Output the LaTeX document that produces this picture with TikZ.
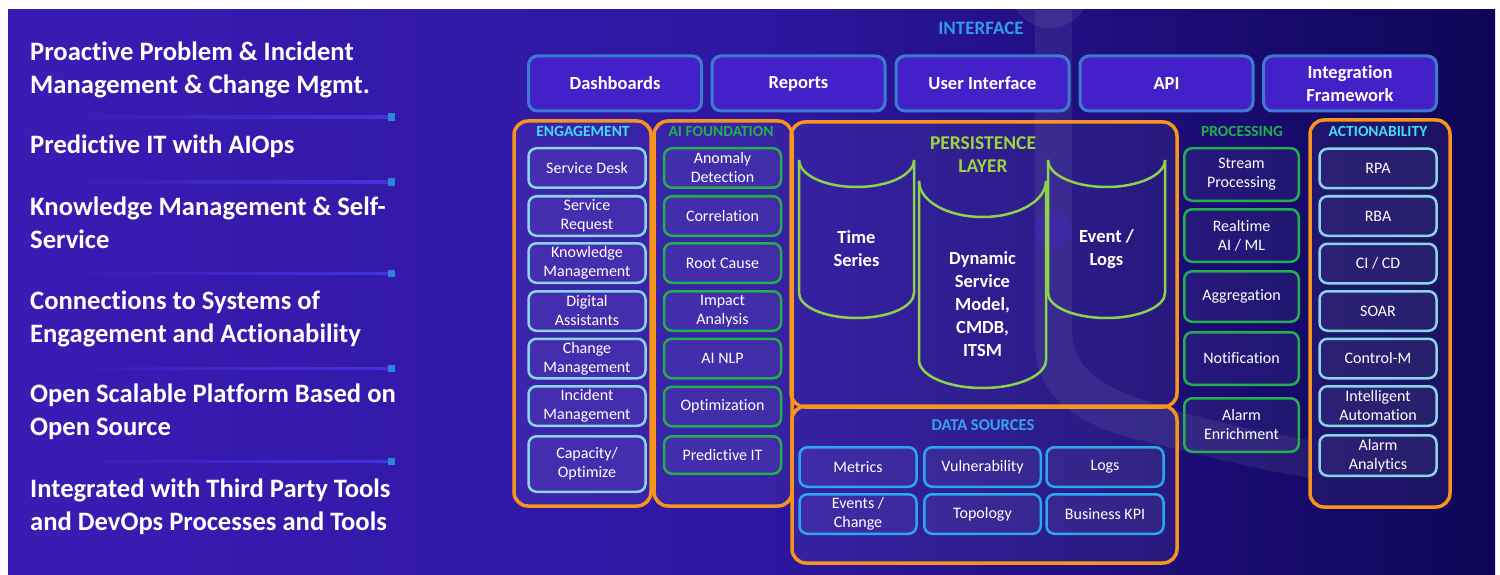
\documentclass[tikz,border=0pt]{standalone}
\usepackage{fontspec}
\setmainfont[Ligatures=NoCommon]{Carlito}
\definecolor{bgleft}{HTML}{3A1CB4}
\definecolor{bgmid}{HTML}{2E17A2}
\definecolor{bgright}{HTML}{0E0556}
\definecolor{frameorange}{HTML}{F7941D}
\definecolor{engcyan}{HTML}{86D6E8}
\definecolor{labelcyan}{HTML}{40DDF2}
\definecolor{aigreen}{HTML}{21B04B}
\definecolor{persgreen}{HTML}{9AD63E}
\definecolor{cylgreen}{HTML}{8ED14C}
\definecolor{dsblue}{HTML}{2BA9EE}
\definecolor{dslabel}{HTML}{38A3EA}
\definecolor{ifblue}{HTML}{3C7CCF}
\definecolor{iffill}{HTML}{4420C8}
\definecolor{iflabel}{HTML}{2F9CE8}
\definecolor{sepline}{HTML}{4333DE}
\definecolor{sepdot}{HTML}{2A86D6}
\tikzset{
  lefttext/.style={text=white,font=\bfseries\fontsize{26.6}{32.5}\selectfont,align=left,anchor=north west,inner sep=0pt},
  panel/.style={draw=frameorange,line width=3.5pt,rounded corners=14pt,fill=white,fill opacity=0.05},
  item/.style={rounded corners=8pt,line width=2.5pt,fill=white,fill opacity=0.05,text opacity=1,text=white,align=center,
    inner sep=1pt,font=\fontsize{16}{19}\selectfont,minimum width=117pt,minimum height=39.5pt},
  engitem/.style={item,draw=engcyan},
  aiitem/.style={item,draw=aigreen},
  dsitem/.style={item,draw=dsblue},
  ifbutton/.style={rounded corners=9pt,line width=3pt,draw=ifblue,fill=iffill,text=white,align=center,
    font=\bfseries\fontsize{18.5}{23}\selectfont,minimum width=173pt,minimum height=55pt},
  collabel/.style={font=\bfseries\fontsize{15.5}{18}\selectfont,inner sep=0pt},
  cylinder line/.style={draw=cylgreen,line width=2.5pt},
  cyltext/.style={text=white,align=center,font=\bfseries\fontsize{18.5}{23}\selectfont}
}
\begin{document}
\begin{tikzpicture}[x=1pt,y=-1pt]
\useasboundingbox (0,0) rectangle (1500,575);
\fill[white] (0,0) rectangle (1500,575);
\shade[left color=bgleft,right color=bgright,middle color=bgmid] (8,10) rectangle (1495,575);
\begin{scope}
  \clip (8,10) rectangle (1495,575);
  \fill[white,opacity=0.07] (1035,10) -- (1035,350) .. controls (1038,395) and (1075,425) .. (1140,440)
    .. controls (1200,455) and (1260,470) .. (1310,478) -- (1310,440) .. controls (1250,430) and (1180,415) .. (1130,395)
    .. controls (1090,380) and (1072,360) .. (1072,330) -- (1072,10) -- cycle;
  \fill[white,opacity=0.07] (1050,-12) circle (40);
\end{scope}
\fill[bgleft,opacity=0.5] (1053,229) circle (19);

\node[lefttext] (proactive) at (30,42) {Proactive Problem \& Incident\\Management \& Change Mgmt.};
\node[lefttext] (predictive) at (30,135) {Predictive IT with AIOps};
\node[lefttext] (knowledge) at (30,197) {Knowledge Management \& Self-\\Service};
\node[lefttext] (connections) at (30,291) {Connections to Systems of\\Engagement and Actionability};
\node[lefttext] (openplatform) at (30,384) {Open Scalable Platform Based on\\Open Source};
\node[lefttext] (integrated) at (30,479) {Integrated with Third Party Tools\\and DevOps Processes and Tools};
\shade[left color=bgleft,right color=sepline] (70,116) rectangle (388,118.5);
\fill[sepdot] (388,113.5) rectangle (395,121);
\shade[left color=bgleft,right color=sepline] (70,181) rectangle (388,183.5);
\fill[sepdot] (388,178.5) rectangle (395,186);
\shade[left color=bgleft,right color=sepline] (70,272) rectangle (388,274.5);
\fill[sepdot] (388,269.5) rectangle (395,277);
\shade[left color=bgleft,right color=sepline] (70,367) rectangle (388,369.5);
\fill[sepdot] (388,364.5) rectangle (395,372);
\shade[left color=bgleft,right color=sepline] (70,460) rectangle (388,462.5);
\fill[sepdot] (388,457.5) rectangle (395,465);

\node[font=\bfseries\fontsize{19}{22}\selectfont,text=iflabel] (interface) at (981,28) {INTERFACE};
\node[ifbutton] (dashboards) at (615,83.5) {Dashboards};
\node[ifbutton] (reports) at (798.5,83.5) {Reports};
\node[ifbutton] (userinterface) at (982.5,83.5) {User Interface};
\node[ifbutton] (api) at (1166.5,83.5) {API};
\node[ifbutton] (integration) at (1350,83.5) {Integration\\Framework};

\draw[panel] (514,121) rectangle (651,506);
\draw[panel] (654,121) rectangle (792,506);
\draw[panel] (791,122) rectangle (1177,407);
\draw[panel] (792,406) rectangle (1177,563);
\draw[panel] (1310,120) rectangle (1450,507);

\node[collabel,text=labelcyan] (engagement) at (583,131.5) {ENGAGEMENT};
\node[engitem] (servicedesk) at (587,168) {Service Desk};
\node[engitem] (servicerequest) at (587,216) {Service\\Request};
\node[engitem] (knowledgemgmt) at (587,263) {Knowledge\\Management};
\node[engitem] (digital) at (587,311) {Digital\\Assistants};
\node[engitem] (changemgmt) at (587,358.5) {Change\\Management};
\node[engitem] (incidentmgmt) at (587,406) {Incident\\Management};
\node[engitem,minimum height=55.5pt] (capacity) at (587,464) {Capacity/\\Optimize};

\node[collabel,text=aigreen] (aifoundation) at (721,131.5) {AI FOUNDATION};
\node[aiitem] (anomaly) at (722.5,168) {Anomaly\\Detection};
\node[aiitem] (correlation) at (722.5,216) {Correlation};
\node[aiitem] (rootcause) at (722.5,263) {Root Cause};
\node[aiitem] (impact) at (722.5,311) {Impact\\Analysis};
\node[aiitem] (ainlp) at (722.5,358.5) {AI NLP};
\node[aiitem] (optimization) at (722.5,406.5) {Optimization};
\node[aiitem,minimum height=37.5pt] (predictiveit) at (722.5,455) {Predictive IT};

\node[font=\bfseries\fontsize{19.5}{23}\selectfont,text=persgreen,align=center,inner sep=0pt] (persistence) at (983,155) {PERSISTENCE\\LAYER};
\draw[cylinder line] (799,160) .. controls (799,174.9) and (824.7,187) .. (856.5,187) .. controls (888.3,187) and (914,174.9) .. (914,160);
\draw[cylinder line] (799,160) -- (799,293) .. controls (799,306.8) and (824.7,318) .. (856.5,318) .. controls (888.3,318) and (914,306.8) .. (914,293) -- (914,160);
\draw[cylinder line] (919,181) .. controls (919,200.9) and (947.4,217) .. (982.5,217) .. controls (1017.6,217) and (1046,200.9) .. (1046,181);
\draw[cylinder line] (919,181) -- (919,360) .. controls (919,375.5) and (947.4,388) .. (982.5,388) .. controls (1017.6,388) and (1046,375.5) .. (1046,360) -- (1046,181);
\draw[cylinder line] (1048,160) .. controls (1048,174.9) and (1074.2,187) .. (1106.5,187) .. controls (1138.8,187) and (1165,174.9) .. (1165,160);
\draw[cylinder line] (1048,160) -- (1048,293) .. controls (1048,306.8) and (1074.2,318) .. (1106.5,318) .. controls (1138.8,318) and (1165,306.8) .. (1165,293) -- (1165,160);
\node[cyltext] (timeseries) at (856.5,249) {Time\\Series};
\node[cyltext] (dynamicmodel) at (982.5,304) {Dynamic\\Service\\Model,\\CMDB,\\ITSM};
\node[cyltext] (eventlogs) at (1106.5,249) {Event /\\Logs};

\node[collabel,text=dslabel,font=\bfseries\fontsize{16.5}{19}\selectfont] (datasources) at (983,425.5) {DATA SOURCES};
\node[dsitem] (metrics) at (858,467) {Metrics};
\node[dsitem,minimum width=116.5pt] (vulnerability) at (982.5,467) {Vulnerability};
\node[dsitem] (logs) at (1105,467) {Logs};
\node[dsitem] (events) at (858,514) {Events /\\Change};
\node[dsitem,minimum width=116.5pt] (topology) at (982.5,514) {Topology};
\node[dsitem] (businesskpi) at (1105,514) {Business KPI};

\node[collabel,text=aigreen] (processing) at (1242,131.5) {PROCESSING};
\node[aiitem,minimum width=114.5pt,minimum height=52.5pt] (stream) at (1241.5,174.5) {Stream\\Processing};
\node[aiitem,minimum width=114.5pt,minimum height=52.5pt] (realtime) at (1241.5,235.5) {Realtime\\AI / ML};
\node[aiitem,minimum width=114.5pt,minimum height=50.5pt] (aggregation) at (1241.5,296.5) {Aggregation};
\node[aiitem,minimum width=114.5pt,minimum height=52.5pt] (notification) at (1241.5,358.5) {Notification};
\node[aiitem,minimum width=114.5pt,minimum height=53.5pt] (enrichment) at (1241.5,425) {Alarm\\Enrichment};

\node[collabel,text=labelcyan] (actionability) at (1378,131.5) {ACTIONABILITY};
\node[engitem] (rpa) at (1378,168.5) {RPA};
\node[engitem] (rba) at (1378,216) {RBA};
\node[engitem] (cicd) at (1378,263.5) {CI / CD};
\node[engitem] (soar) at (1378,311) {SOAR};
\node[engitem] (controlm) at (1378,358.5) {Control-M};
\node[engitem] (intelligent) at (1378,406) {Intelligent\\Automation};
\node[engitem,minimum height=40.5pt] (alarmanalytics) at (1378,455.5) {Alarm\\Analytics};
\end{tikzpicture}
\end{document}
